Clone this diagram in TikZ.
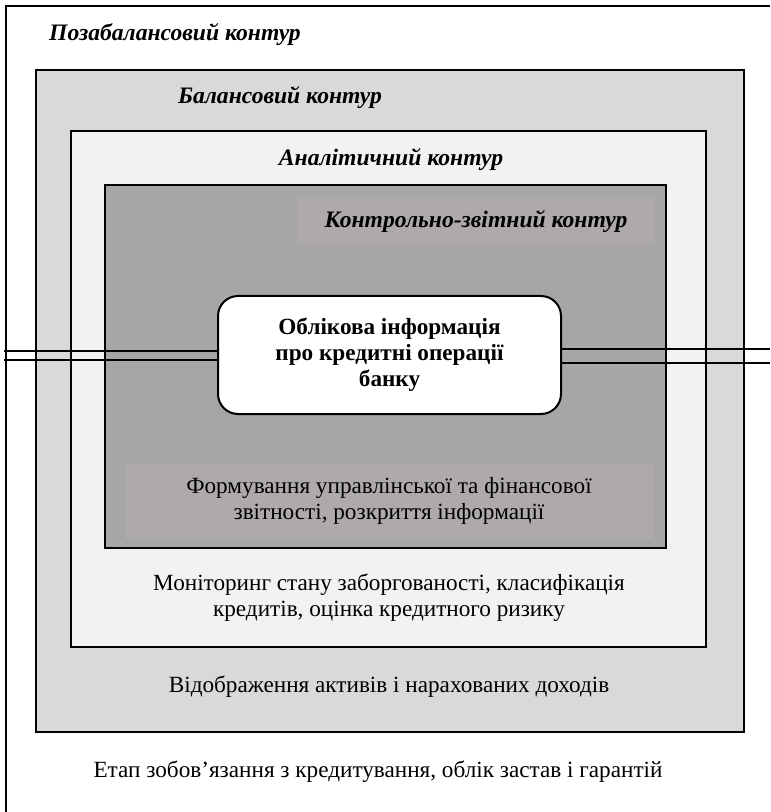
\documentclass[tikz,border=0pt]{standalone}
\usepackage{fontspec}
\setmainfont{Liberation Serif}
\definecolor{balgray}{HTML}{D9D9D9}
\definecolor{anagray}{HTML}{F2F2F2}
\definecolor{ctlgray}{HTML}{A6A6A6}
\definecolor{labgray}{HTML}{AEAAAA}
\begin{document}
\begin{tikzpicture}[x=0.75pt,y=-0.75pt,
  txt/.style={font=\fontsize{17.4}{19.6}\selectfont, align=center, inner sep=0pt},
  ttl/.style={font=\fontsize{17.7}{19.6}\selectfont\bfseries\itshape, inner sep=0pt},
  frame/.style={draw=black, line width=1.2pt, rectangle, inner sep=0pt},
  labbox/.style={fill=labgray, draw=none, rectangle, inner sep=0pt},
  link/.style={draw=black, line width=1.3pt}]
\fill[white] (0,0) rectangle (770,812);
\useasboundingbox (0,0) rectangle (770,812);
% outer (off-balance) frame: only its left and top sides lie on the page
\draw[line width=1.2pt] (6,812) -- (6,6) -- (770,6);
\node[frame, fill=balgray, minimum width=708*0.75pt, minimum height=662*0.75pt] (bal) at (390,401) {};
\node[frame, fill=anagray, minimum width=635*0.75pt, minimum height=516*0.75pt] (ana) at (388.5,389) {};
\node[frame, fill=ctlgray, minimum width=561*0.75pt, minimum height=363*0.75pt] (ctl) at (385.5,366.5) {};
\node[labbox, minimum width=358*0.75pt, minimum height=48*0.75pt] (ctllab) at (476,221) {};
\node[ttl] (ctltext) at (476,222) {Контрольно-звітний контур};
\node[labbox, minimum width=528*0.75pt, minimum height=76*0.75pt] (rep) at (389,501) {};
\node[txt] (reptext) at (389,501) {Формування управлінської та фінансової\\звітності, розкриття інформації};
% titles
\node[ttl] (outtitle) at (175,35) {Позабалансовий контур};
\node[ttl] (baltitle) at (280,98) {Балансовий контур};
\node[ttl] (anatitle) at (391,160) {Аналітичний контур};
% texts
\node[txt] (anatext) at (389,598) {Моніторинг стану заборгованості, класифікація\\кредитів, оцінка кредитного ризику};
\node[txt] (baltext) at (389,687) {Відображення активів і нарахованих доходів};
\node[txt] (outtext) at (378,772) {Етап зобов’язання з кредитування, облік застав і гарантій};
% links
\coordinate (la) at (4,351);
\coordinate (lb) at (4,360);
\coordinate (ra) at (770,349);
\coordinate (rb) at (770,363);
\node[draw=none, minimum width=343*0.75pt, minimum height=118*0.75pt] (infoghost) at (389.5,355) {};
\draw[link] (la) -- (la -| infoghost.west);
\draw[link] (lb) -- (lb -| infoghost.west);
\draw[link] (ra) -- (ra -| infoghost.east);
\draw[link] (rb) -- (rb -| infoghost.east);
\node[draw=black, fill=white, line width=1.5pt, rounded corners=15pt, minimum width=343*0.75pt, minimum height=118*0.75pt, align=center, inner sep=0pt, font=\fontsize{17.4}{19.6}\selectfont\bfseries] (info) at (389.5,355) {Облікова інформація\\про кредитні операції\\банку};
\end{tikzpicture}
\end{document}
